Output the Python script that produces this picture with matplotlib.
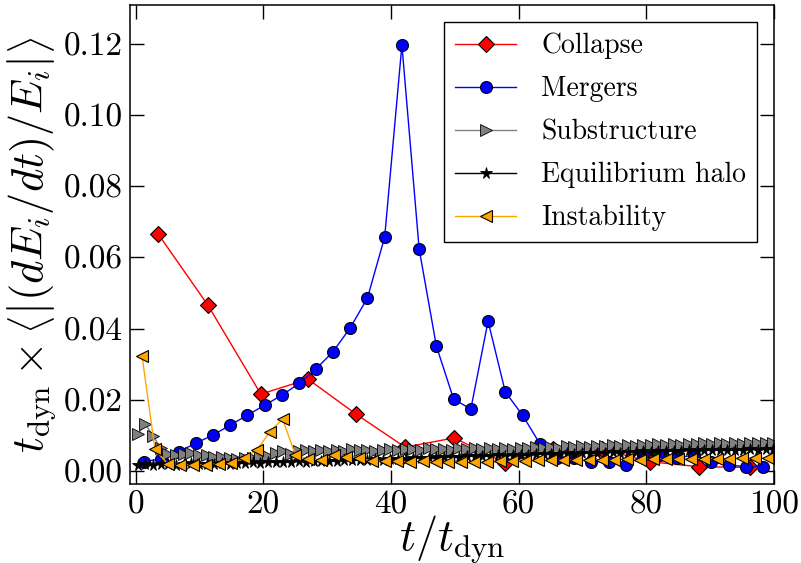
import numpy as np
import matplotlib
matplotlib.use('Agg')
from matplotlib import pyplot as plt

plt.rcParams['font.family'] = 'serif'
plt.rcParams['font.serif'] = ['cmr10']
plt.rcParams['mathtext.fontset'] = 'cm'
plt.rcParams['axes.unicode_minus'] = False

# Collapse
t_collapse = [3.5, 11.3, 19.6, 27.0, 34.5, 42.2, 49.9, 57.9, 65.4, 73.1, 80.6, 88.3, 96.2]
e_collapse = [0.0666, 0.0466, 0.0216, 0.0258, 0.0160, 0.0067, 0.0093, 0.0022, 0.0061,
              0.0061, 0.0026, 0.0012, 0.0010]

# Mergers
t_mergers = [1.3, 4.0, 6.7, 9.4, 12.1, 14.8, 17.5, 20.2, 22.9, 25.6, 28.2, 30.9, 33.6,
             36.3, 39.0, 41.7, 44.4, 47.1, 49.8, 52.5, 55.2, 57.9, 60.6, 63.3, 66.0,
             68.7, 71.4, 74.1, 76.8, 79.4, 82.1, 84.8, 87.5, 90.2, 92.9, 95.6, 98.3]
e_mergers = [0.0026, 0.0035, 0.0054, 0.0078, 0.0101, 0.0129, 0.0157, 0.0185, 0.0213,
             0.0246, 0.0286, 0.0335, 0.0402, 0.0486, 0.0657, 0.1197, 0.0624, 0.0351,
             0.0202, 0.0174, 0.0421, 0.0222, 0.0157, 0.0077, 0.0036, 0.0037, 0.0026,
             0.0026, 0.0017, 0.0045, 0.0045, 0.0037, 0.0045, 0.0026, 0.0017, 0.0012,
             0.0012]

# Substructure y halo en equilibrio (misma cadencia de salida)
t_sub = [0.3 + 1.2 * j for j in range(84)]
e_sub = [0.0103, 0.0132, 0.0099, 0.0064, 0.0048, 0.0045, 0.0047, 0.0050, 0.0046, 0.0044,
         0.0040, 0.0038, 0.0036, 0.0035, 0.0037, 0.0036, 0.0039, 0.0042, 0.0050, 0.0055,
         0.0047, 0.0056, 0.0058, 0.0055, 0.0060, 0.0057, 0.0059, 0.0056, 0.0061, 0.0058,
         0.0060, 0.0057, 0.0059, 0.0062, 0.0058, 0.0061, 0.0063, 0.0060, 0.0064, 0.0061,
         0.0063, 0.0060, 0.0064, 0.0062, 0.0065, 0.0063, 0.0066, 0.0062, 0.0065, 0.0063,
         0.0066, 0.0064, 0.0067, 0.0065, 0.0068, 0.0066, 0.0069, 0.0067, 0.0070, 0.0068,
         0.0071, 0.0069, 0.0072, 0.0070, 0.0073, 0.0071, 0.0074, 0.0072, 0.0075, 0.0073,
         0.0076, 0.0074, 0.0077, 0.0075, 0.0078, 0.0076, 0.0078, 0.0077, 0.0079, 0.0077,
         0.0080, 0.0078, 0.0080, 0.0079]
e_eq = [0.0018, 0.0020, 0.0017, 0.0019, 0.0021, 0.0018, 0.0020, 0.0022, 0.0019, 0.0021,
        0.0020, 0.0022, 0.0021, 0.0023, 0.0022, 0.0024, 0.0023, 0.0025, 0.0024, 0.0026,
        0.0025, 0.0027, 0.0026, 0.0028, 0.0027, 0.0029, 0.0028, 0.0030, 0.0031, 0.0030,
        0.0032, 0.0033, 0.0032, 0.0034, 0.0035, 0.0034, 0.0036, 0.0037, 0.0036, 0.0038,
        0.0039, 0.0040, 0.0039, 0.0041, 0.0042, 0.0041, 0.0043, 0.0044, 0.0043, 0.0045,
        0.0046, 0.0045, 0.0047, 0.0048, 0.0047, 0.0049, 0.0050, 0.0049, 0.0051, 0.0050,
        0.0052, 0.0051, 0.0053, 0.0052, 0.0054, 0.0053, 0.0055, 0.0054, 0.0056, 0.0055,
        0.0057, 0.0056, 0.0058, 0.0057, 0.0058, 0.0059, 0.0058, 0.0060, 0.0059, 0.0060,
        0.0061, 0.0060, 0.0061, 0.0062]

# Instability
t_inst = list(range(1, 100, 2))
e_inst = [0.0322, 0.0061, 0.0020, 0.0018, 0.0017, 0.0018, 0.0020, 0.0023, 0.0036, 0.0059,
          0.0110, 0.0146, 0.0046, 0.0033, 0.0032, 0.0046, 0.0040, 0.0036, 0.0028, 0.0027,
          0.0027, 0.0026, 0.0027, 0.0026, 0.0025, 0.0026, 0.0025, 0.0026, 0.0027, 0.0028,
          0.0029, 0.0030, 0.0031, 0.0030, 0.0031, 0.0032, 0.0031, 0.0032, 0.0033, 0.0032,
          0.0033, 0.0034, 0.0033, 0.0034, 0.0035, 0.0034, 0.0035, 0.0036, 0.0036, 0.0037]

fig = plt.figure(figsize=(8.01, 5.63), dpi=100)
ax = fig.add_axes([0.1623, 0.1403, 0.804, 0.8508])

ax.plot(t_collapse, e_collapse, '-', color='red', marker='D', ms=8.6, mfc='red',
        mec='k', mew=0.8, lw=1, label='Collapse')
ax.plot(t_mergers, e_mergers, '-', color='blue', marker='o', ms=8.6, mfc='blue',
        mec='k', mew=0.8, lw=1, label='Mergers')
ax.plot(t_sub, e_sub, '-', color='gray', marker='>', ms=9, mfc='gray',
        mec='k', mew=0.6, lw=1, label='Substructure')
ax.plot(t_sub, e_eq, '-', color='k', marker='*', ms=8.5, mfc='k',
        mec='k', mew=0.6, lw=1, label='Equilibrium halo')
ax.plot(t_inst, e_inst, '-', color='orange', marker='<', ms=9, mfc='orange',
        mec='k', mew=0.8, lw=1, label='Instability')

ax.set_xlim(-0.9, 100)
ax.set_ylim(-0.00365, 0.1309)
ax.set_xticks([0, 20, 40, 60, 80, 100])
ax.set_yticks([0.00, 0.02, 0.04, 0.06, 0.08, 0.10, 0.12])
ax.set_yticklabels(['0.00', '0.02', '0.04', '0.06', '0.08', '0.10', '0.12'])
ax.tick_params(direction='in', top=True, right=True, length=10, width=1,
               labelsize=24, pad=5)
for s in ax.spines.values():
    s.set_linewidth(1.1)

ax.set_xlabel(r'$t/t_{\rm dyn}$', fontsize=32, labelpad=-5)
ax.set_ylabel(r'$t_{\rm dyn}\times\left\langle\left|(dE_i/dt)/E_i\right|\right\rangle$',
              fontsize=32, labelpad=4)

leg = ax.legend(loc='upper right', fontsize=20, fancybox=False, framealpha=1,
                edgecolor='k', handlelength=2.2, handletextpad=0.9,
                borderaxespad=0.6, labelspacing=0.6, borderpad=0.4)
leg.get_frame().set_linewidth(1)

fig.savefig('out.png', dpi=100)
